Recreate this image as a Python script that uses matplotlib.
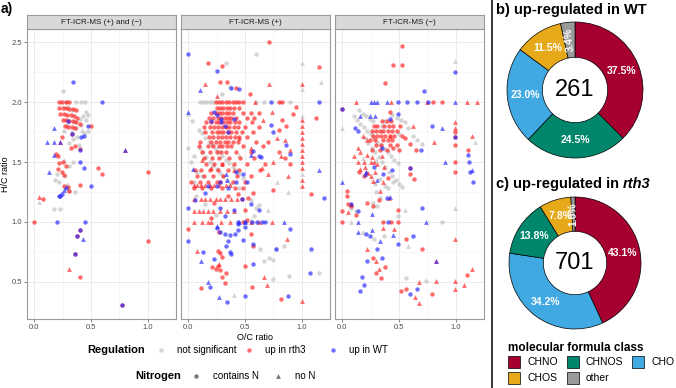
import math
import matplotlib
matplotlib.use("Agg")
import matplotlib.pyplot as plt
from matplotlib.patches import Rectangle

plt.rcParams['font.family'] = ['Liberation Sans', 'DejaVu Sans']

# ---- van Krevelen data (O/C, H/C) ----
# panel 1: FT-ICR-MS (+) and (-)
both_gray_N = [(0.25,2.09),(0.28,2.0),(0.37,2.0),(0.41,2.0),(0.45,2.0),(0.46,1.92),(0.47,1.89),(0.46,1.85),
               (0.41,1.81),(0.37,1.78),(0.29,1.81),(0.26,1.76),(0.47,1.76),(0.44,1.74),(0.38,1.71),(0.34,1.69),
               (0.31,1.66),(0.43,1.88),(0.40,1.86),(0.35,1.83),(0.33,1.75),(0.31,1.47),(0.34,1.50),(0.18,1.35),
               (0.22,1.33),(0.31,1.26),(0.29,1.31),(0.36,1.25),(0.17,1.11),(0.23,1.11),(0.39,1.64),(0.30,1.96),
               (0.33,1.93),(0.20,1.40),(0.27,1.38)]
both_gray_noN = [(0.04,1.17),(0.26,1.52),(0.42,1.77)]
both_red_N = [(0.22,2.0),(0.245,2.0),(0.28,2.0),(0.31,2.0),
              (0.22,1.95),(0.25,1.95),(0.28,1.95),(0.31,1.94),(0.34,1.94),(0.37,1.93),
              (0.23,1.90),(0.26,1.90),(0.29,1.89),(0.32,1.89),(0.35,1.88),(0.38,1.87),
              (0.25,1.85),(0.28,1.85),(0.31,1.84),(0.34,1.84),(0.37,1.83),(0.40,1.82),
              (0.27,1.80),(0.30,1.79),(0.33,1.79),(0.36,1.78),(0.50,1.80),
              (0.24,1.71),(0.32,1.62),(0.40,1.61),(0.36,1.63),(0.19,1.57),(0.21,1.55),(0.25,1.50),
              (0.22,1.49),(0.28,1.47),(0.21,1.44),(0.24,1.42),(0.26,1.39),(0.26,1.30),(0.40,1.31),
              (0.31,1.26),(0.56,1.45),(0.60,1.40),(1.0,1.42),(0.08,1.19),(0.0,1.0),(1.0,0.84),
              (0.40,0.54),(0.30,1.29),
              (0.40,0.93),(0.38,0.88),(0.36,0.73),(0.77,0.31),(0.33,1.73)]
both_red_noN = [(0.04,1.21),(0.31,0.61),(0.23,1.67),(0.80,1.60)]
both_blue_N = [(0.34,2.17),(0.60,2.0),(0.47,1.80),(0.44,1.72),(0.41,1.71),(0.40,1.60),(0.40,1.50),(0.44,1.45),
               (0.50,1.30),(0.23,1.22),(0.22,1.22),(0.24,1.23),(0.20,1.0),(0.45,1.0),(0.28,1.28),(0.30,1.84),
               (0.40,0.93),(0.38,0.88),(0.36,0.73),(0.77,0.31),(0.33,1.73)]
both_blue_noN = [(0.17,1.78),(0.11,1.67),(0.17,1.67),(0.17,1.56),(0.13,1.42),(0.43,0.86),(0.26,1.27),
                 (0.23,1.67),(0.80,1.60)]

# panel 2: FT-ICR-MS (+)
pos_gray_N = [(0.10,2.0),(0.13,2.0),(0.16,2.0),(0.19,2.0),(0.22,2.0),(0.60,2.0),(0.67,2.0),(0.90,2.0),(0.30,2.07),
              (0.60,2.40),(0.33,2.33),(0.37,2.13),
              (0.09,1.77),(0.12,1.74),(0.15,1.70),(0.18,1.67),(0.21,1.64),(0.24,1.61),(0.27,1.58),(0.30,1.55),
              (0.33,1.52),(0.36,1.49),(0.39,1.46),(0.42,1.43),(0.45,1.40),(0.48,1.37),(0.10,1.62),(0.13,1.58),
              (0.16,1.54),(0.19,1.50),(0.22,1.47),(0.25,1.44),(0.28,1.41),(0.31,1.38),(0.34,1.35),(0.37,1.32),
              (0.03,1.84),(0.0,1.62),(0.05,1.55),(0.02,1.50),(0.08,1.42),(0.12,1.38),(0.05,1.33),(0.07,1.22),
              (0.15,1.15),(0.24,1.06),(0.63,0.77),(0.77,0.77),(0.84,0.80),(0.67,0.67),(0.71,0.70),(0.75,0.68),
              (1.15,0.57),(0.89,0.55),(0.75,0.52),(0.60,1.12),(0.62,1.14),(0.55,1.18),(0.45,1.28),(0.58,1.05)]
pos_gray_noN = [(1.0,2.33),(1.17,2.17),(1.0,2.11),(1.0,1.88),(0.0,1.90),(1.0,1.40),(0.78,1.33),(0.88,1.25),
                (0.40,0.39),(0.55,1.02),(0.70,1.10),(0.45,1.56)]
pos_red_N = [(0.71,2.5),(0.17,2.33),(0.30,2.30),(1.15,2.29),(0.28,2.17),(0.34,2.17),(0.42,2.12),(0.54,2.07),
             (0.24,2.0),(0.27,2.0),(0.30,2.0),(0.33,2.0),(0.36,2.0),(0.39,2.0),(0.42,2.0),(0.45,2.0),(0.48,2.0),
             (0.80,2.0),(0.83,2.0),(1.13,1.87),(0.83,1.85),(0.86,1.80),(0.80,1.77),(0.92,1.90),(0.95,1.96),
             (0.25,1.95),(0.28,1.95),(0.31,1.95),(0.34,1.95),(0.37,1.95),(0.40,1.95),(0.45,1.95),
             (0.20,1.91),(0.24,1.91),(0.27,1.91),(0.30,1.91),(0.33,1.91),(0.36,1.91),(0.39,1.91),(0.48,1.91),(0.55,1.91),(0.62,1.91),
             (0.18,1.87),(0.22,1.87),(0.26,1.87),(0.29,1.87),(0.32,1.87),(0.35,1.87),(0.38,1.87),(0.42,1.87),(0.52,1.87),(0.58,1.87),
             (0.16,1.83),(0.20,1.83),(0.24,1.83),(0.27,1.83),(0.31,1.83),(0.34,1.83),(0.37,1.83),(0.41,1.83),(0.45,1.83),(0.56,1.83),
             (0.14,1.79),(0.19,1.79),(0.23,1.79),(0.26,1.79),(0.30,1.79),(0.33,1.79),(0.36,1.79),(0.40,1.79),(0.44,1.79),(0.50,1.79),(0.62,1.79),
             (0.15,1.75),(0.21,1.75),(0.25,1.75),(0.28,1.75),(0.31,1.75),(0.35,1.75),(0.38,1.75),(0.42,1.75),(0.47,1.75),(0.57,1.75),
             (0.18,1.71),(0.22,1.71),(0.26,1.71),(0.30,1.71),(0.33,1.71),(0.37,1.71),(0.41,1.71),(0.45,1.71),(0.52,1.71),
             (0.10,1.67),(0.20,1.67),(0.24,1.67),(0.28,1.67),(0.32,1.67),(0.35,1.67),(0.39,1.67),(0.44,1.67),(0.60,1.67),(0.70,1.67),
             (0.09,1.63),(0.17,1.63),(0.22,1.63),(0.27,1.63),(0.30,1.63),(0.34,1.63),(0.38,1.63),(0.48,1.63),(0.66,1.63),
             (0.12,1.58),(0.19,1.58),(0.25,1.58),(0.29,1.58),(0.33,1.58),(0.42,1.58),(0.55,1.58),(0.80,1.58),
             (0.14,1.53),(0.21,1.53),(0.27,1.53),(0.36,1.53),(0.46,1.53),(0.58,1.53),(0.85,1.53),
             (0.16,1.48),(0.23,1.48),(0.30,1.48),(0.40,1.48),(0.52,1.48),(0.68,1.48),(0.90,1.48),
             (0.06,1.43),(0.11,1.43),(0.19,1.43),(0.26,1.43),(0.35,1.43),(0.45,1.43),(0.63,1.43),
             (0.08,1.38),(0.14,1.38),(0.22,1.38),(0.31,1.38),(0.43,1.38),(0.55,1.38),
             (0.02,1.33),(0.10,1.33),(0.17,1.33),(0.25,1.33),(0.39,1.33),(0.50,1.33),
             (0.05,1.28),(0.12,1.28),(0.20,1.28),(0.30,1.28),(0.41,1.28),(0.48,1.28),
             (1.08,1.23),(0.0,0.94),(0.28,0.60),(0.24,0.61),(0.21,0.62),(0.26,0.63),(0.33,0.57),(0.11,0.45),
             (0.30,0.54),(0.32,0.49),(0.50,0.63),(0.57,0.80),(0.56,0.46),(0.82,0.36),(0.75,1.27),(0.28,0.74),
             (0.30,0.71),(0.26,0.76),(0.27,0.92),(0.20,1.03),(0.48,1.0),(0.23,1.16),(0.35,1.22),(0.44,1.23),
             (0.53,1.20),(0.57,1.24),(0.50,1.10),(0.55,0.90),(0.52,1.02),(0.28,1.33),(0.47,1.19)]
pos_red_noN = [(0.15,2.15),(0.71,2.15),(1.0,2.15),(0.25,2.05),(0.59,2.0),
               (1.0,1.85),(1.0,1.80),(1.0,1.75),(1.0,1.70),(1.0,1.65),(1.0,1.60),(1.0,1.55),(1.0,1.50),
               (1.0,1.45),(1.0,1.35),(1.0,1.30),(0.88,1.38),(0.90,1.60),(0.85,1.68),(0.78,1.70),(0.82,1.55),
               (0.75,1.50),(0.65,1.45),(0.70,1.40),
               (0.05,1.31),(0.08,1.31),(0.11,1.31),(0.15,1.31),(0.19,1.31),(0.23,1.31),(0.27,1.31),(0.33,1.31),(0.37,1.31),
               (0.05,1.19),(0.11,1.19),(0.15,1.19),(0.19,1.19),(0.24,1.19),(0.28,1.19),(0.32,1.19),(0.38,1.19),(0.43,1.19),
               (0.05,1.09),(0.09,1.09),(0.13,1.09),(0.17,1.09),(0.22,1.09),(0.28,1.09),(0.34,1.09),(0.40,1.09),
               (0.05,1.0),(0.12,1.0),(0.17,1.0),(0.20,1.0),(0.29,1.0),(0.37,1.0),(0.55,1.0),(0.62,1.0),
               (0.74,1.0),(0.87,0.86),(0.08,0.76),(0.27,0.65),(0.67,0.54),(0.69,0.47),(1.0,0.34),
               (0.40,1.43),(0.30,1.48),(0.20,1.45),(0.12,1.52),(0.55,1.62),(0.45,1.70),(0.66,1.85),(0.74,1.92)]
pos_blue_N = [(0.0,2.40),(0.25,2.26),(0.38,2.12),(0.45,2.11),(0.73,2.0),(1.15,2.0),(0.73,1.81),(0.75,1.75),
              (0.86,1.64),(0.90,1.57),(0.57,1.59),(0.62,1.55),(0.64,1.54),(0.23,1.92),(0.25,1.89),(0.29,1.86),
              (0.20,1.84),(0.29,1.83),(0.32,1.80),(0.40,1.86),(0.35,1.75),(1.2,1.20),(0.44,1.0),(0.50,1.0),
              (0.56,1.0),(0.61,1.0),(0.65,1.0),(0.68,1.0),(0.44,0.98),(0.25,0.95),(0.28,0.92),(0.32,0.90),
              (0.37,0.89),(0.41,0.90),(0.44,0.93),(0.48,0.85),(0.50,0.96),(0.35,0.84),(0.0,0.84),(0.13,0.75),
              (0.33,0.80),(0.37,0.75),(0.38,0.73),(0.23,0.69),(0.57,0.65),(0.57,0.82),(0.77,0.77),(0.90,0.94),
              (1.08,0.77),(1.07,0.57),(0.19,0.46),(0.50,0.38),(0.34,0.33),(0.88,0.38),(0.15,1.24),(0.25,1.30),
              (0.35,1.28),(0.42,1.33),(0.06,1.18),(0.0,1.12),(0.28,1.12),(0.40,1.10),(0.55,1.15),(0.62,1.10),
              (0.32,1.05),(0.42,1.42),(0.48,1.40),(0.52,1.33),(0.17,1.30),(0.28,1.33),(0.47,1.19)]
pos_blue_noN = [(0.10,2.10),(0.0,1.92),(1.15,1.43),(0.04,1.44),(0.33,1.40),(0.34,1.35),(0.50,1.0),(0.84,1.0),
                (0.45,1.0),(0.17,0.50),(0.11,0.67),(0.27,0.37),(0.25,0.97),(0.55,1.56)]

# panel 3: FT-ICR-MS (-)
neg_gray_N = [(0.15,1.93),(0.18,1.90),(0.21,1.88),(0.24,1.86),(0.27,1.84),(0.10,1.88),(0.13,1.85),(0.16,1.82),
              (0.19,1.79),(0.22,1.76),(0.25,1.73),(0.28,1.70),(0.31,1.67),(0.34,1.64),(0.37,1.61),(0.40,1.58),
              (0.43,1.55),(0.46,1.52),(0.49,1.49),(0.20,1.70),(0.23,1.66),(0.26,1.62),(0.29,1.58),(0.32,1.54),
              (0.35,1.50),(0.38,1.46),(0.41,1.42),(0.44,1.38),(0.47,1.35),(0.50,1.32),(0.53,1.29),(0.35,1.80),
              (0.38,1.84),(0.44,1.89),(0.48,1.87),(0.52,1.85),(0.55,1.83),(0.58,1.78),(0.62,1.72),(0.66,1.68),
              (0.70,1.65),(0.50,1.73),(0.27,1.16),(0.31,1.13),(0.33,1.20),(0.30,1.25),(0.29,1.32),(0.33,1.36),
              (0.38,1.30),(0.40,1.28),(0.45,1.33),(0.49,1.05),(0.88,1.0),(0.18,0.91),(0.28,0.86),(0.37,0.88),
              (0.56,0.53),(0.74,0.51),(0.12,1.09),(0.08,1.12)]
neg_gray_noN = [(0.99,2.34),(1.17,1.67),(0.0,1.78),(0.99,1.12),(0.55,1.10),(0.58,0.80),(0.08,1.0),(0.18,1.53),
                (0.30,1.52)]
neg_red_N = [(0.53,2.47),(0.45,2.31),(0.53,2.31),(0.38,2.16),(0.80,2.0),(0.88,2.0),(0.99,1.75),(0.99,1.71),
             (0.99,1.64),(0.99,1.50),(1.11,1.60),(0.04,1.26),(0.04,1.22),(0.05,1.15),(0.08,1.13),(0.0,1.09),
             (0.12,1.06),(0.0,1.0),(0.22,1.16),(0.27,1.13),(0.32,1.18),(0.36,1.0),(0.43,1.0),(0.49,1.0),
             (0.49,1.10),(0.56,0.86),(0.70,0.77),(0.27,0.70),(0.38,0.62),(0.30,0.57),(0.34,0.53),(0.52,0.42),
             (0.56,0.44),(0.79,0.40),(1.10,0.56),(0.15,1.42),(0.19,1.38),(0.40,1.37),(0.60,1.40),(0.63,1.36),
             (0.60,1.45),(0.99,1.42),(0.50,1.60),(0.45,1.62),(0.0,1.94),
             (0.35,1.84),(0.39,1.84),(0.43,1.84),(0.28,1.80),(0.31,1.80),(0.37,1.80),(0.41,1.80),(0.45,1.80),(0.51,1.80),
             (0.26,1.76),(0.30,1.76),(0.33,1.76),(0.36,1.76),(0.40,1.76),(0.44,1.76),(0.48,1.76),
             (0.27,1.72),(0.31,1.72),(0.34,1.72),(0.38,1.72),(0.42,1.72),(0.46,1.72),(0.53,1.72),
             (0.24,1.68),(0.29,1.68),(0.36,1.68),(0.40,1.68),(0.44,1.68),(0.30,1.64),(0.34,1.64),(0.42,1.64),
             (0.48,1.64),(0.26,1.60),(0.33,1.60),(0.39,1.60),(0.55,1.70),(0.60,1.65),(0.65,1.60),(0.42,1.92)]
neg_red_noN = [(0.12,2.0),(0.43,2.0),(0.75,2.0),(1.10,2.0),(1.19,2.0),(0.99,1.83),(0.99,1.78),(1.14,1.72),
               (0.81,1.67),(0.14,1.50),(0.19,1.50),(0.25,1.50),(0.28,1.50),(0.10,1.55),(0.16,1.58),(0.22,1.56),
               (0.26,1.54),(0.35,1.55),(0.31,1.48),(0.20,1.46),(0.16,1.44),(0.23,1.41),(0.25,1.38),(0.29,1.42),
               (0.14,1.62),(0.22,1.68),(0.18,1.72),(0.37,1.46),(0.36,1.33),(0.33,1.26),(0.27,1.34),(0.08,1.15),
               (0.05,1.08),(0.36,0.95),(0.46,0.94),(0.22,0.77),(0.30,0.67),(0.32,0.61),(0.68,0.50),(0.83,0.51),
               (0.99,0.51),(0.99,0.44),(1.07,0.47),(1.14,0.61),(0.64,0.37),(0.68,0.32),(0.99,0.86),(0.41,1.20),
               (0.42,1.72),(0.62,1.80),(0.83,0.67),(0.21,1.42)]
neg_blue_N = [(0.99,2.25),(0.72,2.09),(0.49,2.0),(0.57,2.0),(0.66,2.0),(0.76,2.0),(0.0,1.94),(0.11,1.78),
              (0.14,1.76),(0.42,1.86),(0.49,1.90),(0.79,1.80),(0.69,1.60),(1.11,1.56),(1.12,1.50),(1.13,1.42),
              (1.15,1.33),(0.14,1.09),(0.08,1.15),(0.39,1.20),(0.70,1.12),(0.40,1.0),(0.24,0.88),(0.49,0.82),
              (0.62,0.88),(0.31,0.77),(0.35,0.70),(0.22,0.67),(0.17,0.54),(0.19,0.47),(0.16,0.42),(0.66,0.44),
              (0.60,0.40),(0.35,1.62),(0.28,1.46),(0.44,1.43),(0.36,1.40),(0.60,1.45),(0.21,0.90),(0.99,1.71)]
neg_blue_noN = [(0.25,2.0),(0.28,2.0),(0.31,2.0),(0.39,2.0),(0.99,2.0),(0.16,1.88),(0.24,1.88),(0.29,1.88),
                (0.88,1.78),(0.91,1.50),(1.14,1.43),(0.0,1.33),(0.14,1.00),(0.26,1.07),(0.74,1.0),(0.14,0.92),
                (0.26,0.93),(0.33,0.84),(0.45,0.89),(0.42,1.21),(0.20,1.40),(0.31,1.35),(0.83,0.67),(0.21,1.42)]

facet_titles = ["FT-ICR-MS (+) and (\u2212)", "FT-ICR-MS (+)", "FT-ICR-MS (\u2212)"]
x_ticks = [0.0, 0.5, 1.0]
y_ticks = [0.5, 1.0, 1.5, 2.0, 2.5]

# ---- donut data ----
wt_classes = ["CHNO", "CHNOS", "CHO", "CHOS", "other"]
wt_share = [37.5, 24.5, 23.0, 11.5, 3.4]
wt_total = 261
rth3_classes = ["CHNO", "CHO", "CHNOS", "CHOS", "other"]
rth3_share = [43.1, 34.2, 13.8, 7.8, 1.0]
rth3_total = 701
class_order = ["CHNO", "CHNOS", "CHO", "CHOS", "other"]
class_colors = {"CHNO": "#A50030", "CHNOS": "#00876B", "CHO": "#41A9E1",
                "CHOS": "#E6A919", "other": "#9A9A9A"}

reg_colors = {"gray": "#BDBDBD", "red": "#FF1A1A", "blue": "#2222FF"}

W, H = 676, 388
fig = plt.figure(figsize=(W / 100, H / 100), dpi=100)


def box(x, y, w, h):
    return [x / W, 1 - (y + h) / H, w / W, h / H]


def draw(ax, pts, color, marker):
    if not pts:
        return
    xs, ys = zip(*pts)
    ax.scatter(xs, ys, s=10 if marker == "o" else 12, c=color, marker=marker,
               alpha=0.65, linewidths=0, zorder=3)


panels = [
    (both_gray_N, both_gray_noN, both_red_N, both_red_noN, both_blue_N, both_blue_noN),
    (pos_gray_N, pos_gray_noN, pos_red_N, pos_red_noN, pos_blue_N, pos_blue_noN),
    (neg_gray_N, neg_gray_noN, neg_red_N, neg_red_noN, neg_blue_N, neg_blue_noN),
]
lefts = [27, 181, 335]
border = "#9A9A9A"
for i, (left, data) in enumerate(zip(lefts, panels)):
    ax = fig.add_axes(box(left, 29, 149, 290))
    gN, gT, rN, rT, bN, bT = data
    draw(ax, gN, reg_colors["gray"], "o")
    draw(ax, gT, reg_colors["gray"], "^")
    draw(ax, rN, reg_colors["red"], "o")
    draw(ax, rT, reg_colors["red"], "^")
    draw(ax, bN, reg_colors["blue"], "o")
    draw(ax, bT, reg_colors["blue"], "^")
    ax.set_xlim(-0.065, 1.25)
    ax.set_ylim(0.19, 2.61)
    ax.set_xticks(x_ticks)
    ax.set_xticks([0.25, 0.75, 1.25], minor=True)
    ax.set_yticks(y_ticks)
    ax.set_yticks([0.75, 1.25, 1.75, 2.25], minor=True)
    ax.grid(which="major", color="#E8E8E8", lw=0.6)
    ax.grid(which="minor", color="#F2F2F2", lw=0.4)
    ax.set_axisbelow(True)
    ax.tick_params(which="major", length=2.5, width=0.5, color="#555555",
                   labelsize=5.5, labelcolor="#4D4D4D", pad=1.2)
    ax.tick_params(which="minor", length=0)
    ax.set_xticklabels(["%.1f" % t for t in x_ticks])
    if i == 0:
        ax.set_yticklabels(["%.1f" % t for t in y_ticks])
    else:
        ax.set_yticklabels([])
        ax.tick_params(axis="y", which="major", length=0)
    for s in ax.spines.values():
        s.set_color(border)
        s.set_linewidth(0.8)
    st = fig.add_axes(box(left, 15, 149, 14))
    st.set_facecolor("#D9D9D9")
    st.set_xticks([])
    st.set_yticks([])
    for s in st.spines.values():
        s.set_color(border)
        s.set_linewidth(0.8)
    st.text(0.5, 0.5, facet_titles[i], ha="center", va="center", fontsize=5.8,
            color="#1A1A1A", transform=st.transAxes)


def donut(cx, cy, r, classes, shares, total):
    pad = 1.03
    ax = fig.add_axes(box(cx - r * pad, cy - r * pad, 2 * r * pad, 2 * r * pad))
    wedges, _ = ax.pie(shares, colors=[class_colors[c] for c in classes], startangle=90,
                       counterclock=False, radius=1,
                       wedgeprops=dict(width=0.52, edgecolor="black", linewidth=0.5))
    ax.set_xlim(-pad, pad)
    ax.set_ylim(-pad, pad)
    ax.set_aspect("equal")
    ax.axis("off")
    for w, v in zip(wedges, shares):
        mid = (w.theta1 + w.theta2) / 2
        rr = 0.74
        x = rr * math.cos(math.radians(mid))
        y = rr * math.sin(math.radians(mid))
        rot = mid if v < 5 else 0
        ax.text(x, y, "%.1f%%" % v, ha="center", va="center", fontsize=7.5,
                fontweight="bold", color="white", rotation=rot, rotation_mode="anchor")
    ax.text(0, 0, str(total), ha="center", va="center", fontsize=17)


donut(575, 90, 68, wt_classes, wt_share, wt_total)
donut(575, 263, 66, rth3_classes, rth3_share, rth3_total)

# ---- overlay for annotations in pixel coords ----
ov = fig.add_axes([0, 0, 1, 1], zorder=10)
ov.set_xlim(0, W)
ov.set_ylim(H, 0)
ov.axis("off")
ov.patch.set_alpha(0)

ov.text(1, 9, "a)", fontsize=10, fontweight="bold", va="center", ha="left")
ov.text(6, 174, "H/C ratio", rotation=90, fontsize=6.5, ha="center", va="center")
ov.text(255, 337, "O/C ratio", fontsize=6.5, ha="center", va="center")
ov.plot([492, 492], [0, H], color="black", lw=1.1)

# legend for regulation / nitrogen
ov.text(87, 350, "Regulation", fontsize=8, fontweight="bold", va="center")
for mx, col, lab in [(161, "gray", "not significant"), (249, "red", "up in rth3"),
                     (333, "blue", "up in WT")]:
    ov.scatter([mx], [350], s=10, c=reg_colors[col], alpha=0.65, linewidths=0)
    ov.text(mx + 16, 350, lab, fontsize=7, va="center")
ov.text(135, 376, "Nitrogen", fontsize=8, fontweight="bold", va="center")
for mx, mk, lab in [(196, "o", "contains N"), (278, "^", "no N")]:
    ov.scatter([mx], [376], s=10 if mk == "o" else 12, c="#555555", marker=mk, alpha=0.8,
               linewidths=0)
    ov.text(mx + 17, 376, lab, fontsize=7, va="center")

# donut titles
ov.text(496, 10, "b) up-regulated in WT", fontsize=10.5, fontweight="bold", va="center")
t = ov.text(496, 184, "c) up-regulated in ", fontsize=10.5, fontweight="bold", va="center")
fig.canvas.draw()
bb = t.get_window_extent()
x_end = ov.transData.inverted().transform((bb.x1, bb.y0))[0]
ov.text(x_end, 184, "rth3", fontsize=10.5, fontweight="bold", fontstyle="italic", va="center")

# donut legend
ov.text(508, 348, "molecular formula class", fontsize=8.5, fontweight="bold", va="center")
leg_pos = [(508, 362), (567, 362), (632, 362), (508, 378), (567, 378)]
for (lx, ly), name in zip(leg_pos, class_order):
    ov.add_patch(Rectangle((lx, ly - 6), 12, 12, facecolor=class_colors[name],
                           edgecolor="black", lw=0.5))
    ov.text(lx + 19, ly, name, fontsize=7.5, va="center")

fig.savefig("out.png", dpi=100)
